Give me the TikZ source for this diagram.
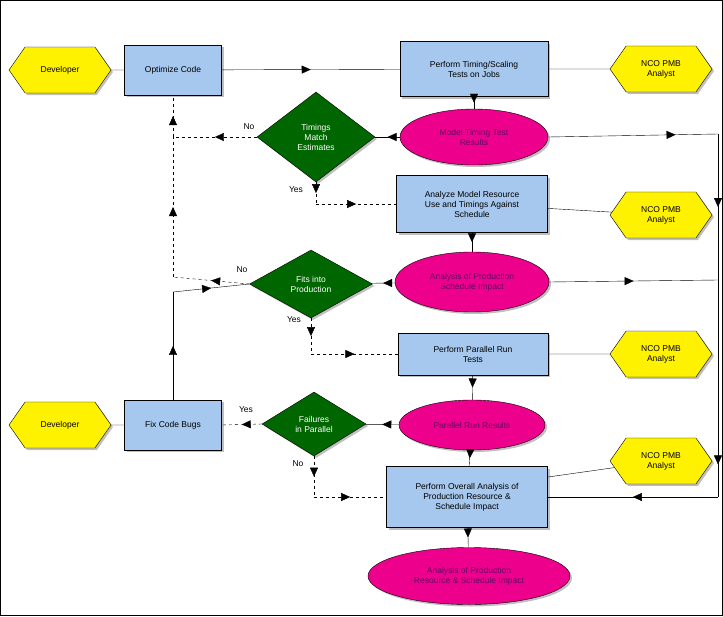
\documentclass[tikz,border=0pt]{standalone}
\usepackage{fontspec}
\setmainfont{Liberation Sans}
\usepackage{tikz}
\usetikzlibrary{shapes.geometric, shapes.symbols, arrows.meta, decorations.markings, shadows}
\definecolor{boxblue}{HTML}{A6C8EE}
\definecolor{dgreen}{HTML}{006600}
\definecolor{txtpurple}{HTML}{660066}
\tikzset{
  role/.style={signal, signal to=west and east, signal pointer angle=110, draw=black, fill=yellow, minimum width=102pt, minimum height=46pt, inner sep=1pt, align=center, drop shadow={opacity=.5, shadow xshift=2pt, shadow yshift=-2pt}},
  process/.style={rectangle, draw=black, fill=boxblue, align=center, inner sep=2pt, drop shadow={opacity=.5, shadow xshift=2pt, shadow yshift=-2pt}},
  decision/.style={diamond, draw=black, fill=dgreen, text=white, align=center, inner sep=0pt, drop shadow={opacity=.5, shadow xshift=2pt, shadow yshift=-2pt}},
  result/.style={ellipse, draw=black, fill=magenta, text=txtpurple, align=center, inner sep=0pt, drop shadow={opacity=.5, shadow xshift=2pt, shadow yshift=-2pt}},
  link/.style={draw=black},
  branch/.style={draw=black, dashed},
  mid/.style={postaction={decorate}, decoration={markings, mark=at position #1 with {\arrow[solid]{Triangle[length=9pt,width=8pt]}}}},
  mid/.default=.5,
  lbl/.style={font=\fontsize{8.5}{10}\selectfont}
}
\begin{document}
\begin{tikzpicture}[x=1pt, y=-1pt, font=\fontsize{8.5}{10}\selectfont]
  \draw[black, fill=white] (0.5,0.5) rectangle (722.5,615.5);
  \useasboundingbox (0,0) rectangle (723,616);

  % top row
  \node (dev1) [role] at (60,70) {Developer};
  \node (opt) [process, minimum width=97pt, minimum height=50pt] at (173,70) {Optimize Code};
  \node (perf) [process, minimum width=148pt, minimum height=55pt] at (474,69) {Perform Timing/Scaling\\Tests on Jobs};
  \node (nco1) [role] at (661,69) {NCO PMB\\Analyst};

  % timing checks
  \node (mtr) [result, minimum width=148pt, minimum height=56pt] at (474,137) {Model Timing Test\\Results};
  \node (tme) [decision, minimum width=118pt, minimum height=90pt] at (316,137) {Timings\\Match\\Estimates};
  \node (anl) [process, minimum width=151pt, minimum height=57pt] at (472,204) {Analyze Model Resource\\Use and Timings Against\\Schedule};
  \node (nco2) [role] at (661,215) {NCO PMB\\Analyst};

  % production fit
  \node (psi) [result, minimum width=154pt, minimum height=60pt] at (472,282) {Analysis of Production\\Schedule Impact};
  \node (fits) [decision, minimum width=123pt, minimum height=68pt] at (311,284) {Fits into\\Production};

  % parallel runs
  \node (par) [process, minimum width=150pt, minimum height=42pt] at (473,354) {Perform Parallel Run\\Tests};
  \node (nco3) [role] at (661,354) {NCO PMB\\Analyst};
  \node (prr) [result, minimum width=146pt, minimum height=50pt] at (472,425) {Parallel Run Results};
  \node (fail) [decision, minimum width=104pt, minimum height=64pt] at (314,424) {Failures\\in Parallel};
  \node (fix) [process, minimum width=97pt, minimum height=50pt] at (173,425) {Fix Code Bugs};
  \node (dev2) [role] at (60,425) {Developer};

  % overall analysis
  \node (ovr) [process, minimum width=161pt, minimum height=61pt] at (467,497) {Perform Overall Analysis of\\Production Resource \&\\Schedule Impact};
  \node (nco4) [role] at (661,461) {NCO PMB\\Analyst};
  \node (fin) [result, minimum width=202pt, minimum height=57pt] at (469,576) {Analysis of Production\\Resource \& Schedule Impact};

  \coordinate (nj) at (173,137);
  \coordinate (fj) at (173,277);
  \coordinate (fb) at (173,292);
  \coordinate (ty) at (316,204);
  \coordinate (fy) at (311,354);
  \coordinate (fn) at (314,497);
  \coordinate (r1) at (718,134);
  \coordinate (r2) at (718,280);
  \coordinate (r3) at (718,497);
  \coordinate (oc) at (548,477);

  % solid connectors
  \draw[link] (dev1) -- (opt);
  \draw[link, mid] (opt) -- (perf);
  \draw[link] (perf) -- (nco1);
  \draw[link, mid] (perf) -- (mtr);
  \draw[link, mid] (mtr) -- (tme);
  \draw[link] (anl) -- (nco2);
  \draw[link, mid] (anl) -- (psi);
  \draw[link, mid] (psi) -- (fits);
  \draw[link] (par) -- (nco3);
  \draw[link, mid] (par) -- (prr);
  \draw[link, mid] (prr) -- (fail);
  \draw[link] (fix) -- (dev2);
  \draw[link, mid] (prr) -- (ovr);
  \draw[link] (oc) -- (nco4);
  \draw[link, mid] (ovr) -- (fin);
  \draw[link, mid] (fix) -- (fb);
  \draw[link, mid] (fb) -- (fits.west);

  % right return line
  \draw[link, mid=.75] (mtr.east) -- (r1);
  \draw[link, mid=.5] (psi.east) -- (r2);
  \draw[link, mid=.5] (r1) -- (r2);
  \draw[link, mid=.85] (r2) -- (r3);
  \draw[link, mid=.5] (r3) -- (ovr.east);

  % decision branches
  \draw[branch, mid] (tme.west) -- (nj);
  \draw[branch, mid] (fj) -- (nj);
  \draw[branch, mid] (nj) -- (opt.south);
  \draw[branch, mid] (fits.west) -- (fj);
  \draw[branch, mid] (tme.south) -- (ty);
  \draw[branch, mid] (ty) -- (anl.west);
  \draw[branch, mid] (fits.south) -- (fy);
  \draw[branch, mid] (fy) -- (par.west);
  \draw[branch, mid] (fail.west) -- (fix.east);
  \draw[branch, mid] (fail.south) -- (fn);
  \draw[branch, mid] (fn) -- (ovr.west);

  \node[lbl] at (249,127) {No};
  \node[lbl] at (296,190) {Yes};
  \node[lbl] at (242,270) {No};
  \node[lbl] at (294,320) {Yes};
  \node[lbl] at (246,410) {Yes};
  \node[lbl] at (298,464) {No};
\end{tikzpicture}
\end{document}
